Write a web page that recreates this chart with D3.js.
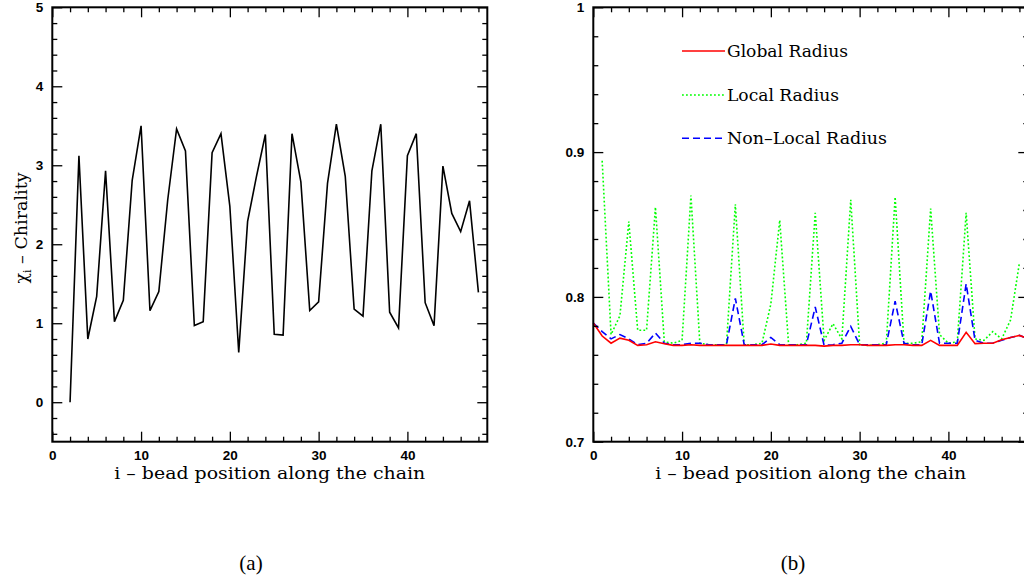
<!DOCTYPE html>
<html><head><meta charset="utf-8">
<script src="https://cdn.jsdelivr.net/npm/d3@7"></script>
<style>body{margin:0;background:#fff}svg{display:block}</style>
</head><body>
<svg id="c" width="1024" height="580"></svg>
<script>
// ---- Panel (a): chirality per bead ----
const beadsA = d3.range(2, 49);
const chirality = [0.00, 3.12, 0.80, 1.34, 2.93, 1.02, 1.29, 2.81, 3.50, 1.16,
  1.40, 2.56, 3.46, 3.18, 0.97, 1.02, 3.16, 3.40, 2.48, 0.63,
  2.29, 2.86, 3.39, 0.86, 0.85, 3.40, 2.79, 1.16, 1.27, 2.77,
  3.52, 2.86, 1.18, 1.09, 2.93, 3.52, 1.14, 0.94, 3.12, 3.40,
  1.26, 0.97, 2.99, 2.39, 2.16, 2.55, 1.39];
const ticksA_x = [0, 10, 20, 30, 40];
const ticksA_y = [0, 1, 2, 3, 4, 5];

// ---- Panel (b): radii per bead ----
const beadsB = d3.range(0, 50);
const globalRadius = [0.782, 0.773, 0.768, 0.7715, 0.770, 0.7665, 0.767, 0.769, 0.7677, 0.7665,
  0.7665, 0.767, 0.7665, 0.7665, 0.7665, 0.7665, 0.7665, 0.7665, 0.7665, 0.7665,
  0.7675, 0.7665, 0.7665, 0.7665, 0.7665, 0.7665, 0.766, 0.7665, 0.7665, 0.767,
  0.767, 0.7665, 0.7665, 0.7665, 0.767, 0.767, 0.7665, 0.7665, 0.770, 0.7665,
  0.7665, 0.7665, 0.7755, 0.7677, 0.768, 0.768, 0.7704, 0.772, 0.7734, 0.771];
const nonLocalRadius = [0.782, 0.776, 0.771, 0.774, 0.771, 0.767, 0.768, 0.775, 0.768, 0.767,
  0.767, 0.768, 0.768, 0.767, 0.767, 0.767, 0.799, 0.767, 0.767, 0.767,
  0.772, 0.767, 0.767, 0.767, 0.767, 0.793, 0.7665, 0.767, 0.768, 0.7796,
  0.767, 0.767, 0.767, 0.767, 0.797, 0.768, 0.767, 0.767, 0.804, 0.768,
  0.768, 0.768, 0.809, 0.770, 0.768, 0.768, 0.770, 0.772, 0.7734, 0.771];
const beadsLocal = d3.range(1, 49);
const localRadius = [0.894, 0.774, 0.787, 0.852, 0.777, 0.777, 0.862, 0.769, 0.768,
  0.770, 0.870, 0.768, 0.767, 0.767, 0.767, 0.864, 0.767, 0.767, 0.768,
  0.795, 0.853, 0.767, 0.767, 0.768, 0.858, 0.770, 0.7815, 0.771, 0.867,
  0.767, 0.7665, 0.767, 0.768, 0.869, 0.768, 0.768, 0.769, 0.861, 0.774,
  0.768, 0.769, 0.858, 0.771, 0.770, 0.776, 0.771, 0.784, 0.8235];
const ticksB_x = [0, 10, 20, 30, 40];
const ticksB_y = [0.7, 0.8, 0.9, 1];
const ticksB_yLabels = ["0.7", "0.8", "0.9", "1"];

const seriesNames = ["Global Radius", "Local Radius", "Non\u2013Local Radius"];

const svg = d3.select("#c");
const tickFont = "'Liberation Sans', Arial, sans-serif";
const serif = "'DejaVu Serif', serif";

function panel(g, x, y, xMaj, xMin, yMaj, yMin, yFmt) {
  const [x0, x1] = x.range();
  const [y0, y1] = y.range(); // y0 bottom, y1 top
  const style = a => {
    a.select(".domain").remove();
    a.selectAll("line").attr("stroke", "#000").attr("stroke-width", 1.3);
    a.selectAll("text").attr("font-family", tickFont).attr("font-weight", "bold")
      .attr("font-size", 13.5).attr("fill", "#000");
  };
  // minor
  g.append("g").attr("transform", `translate(0,${y0})`)
    .call(d3.axisBottom(x).tickValues(xMin).tickSizeInner(-5).tickSizeOuter(0).tickFormat(""))
    .call(style);
  g.append("g").attr("transform", `translate(0,${y1})`)
    .call(d3.axisTop(x).tickValues(xMin).tickSizeInner(-5).tickSizeOuter(0).tickFormat(""))
    .call(style);
  g.append("g").attr("transform", `translate(${x0},0)`)
    .call(d3.axisLeft(y).tickValues(yMin).tickSizeInner(-5).tickSizeOuter(0).tickFormat(""))
    .call(style);
  g.append("g").attr("transform", `translate(${x1},0)`)
    .call(d3.axisRight(y).tickValues(yMin).tickSizeInner(-5).tickSizeOuter(0).tickFormat(""))
    .call(style);
  // major
  g.append("g").attr("transform", `translate(0,${y0})`)
    .call(d3.axisBottom(x).tickValues(xMaj).tickSizeInner(-10).tickSizeOuter(0).tickPadding(9).tickFormat(d3.format("d")))
    .call(style);
  g.append("g").attr("transform", `translate(0,${y1})`)
    .call(d3.axisTop(x).tickValues(xMaj).tickSizeInner(-10).tickSizeOuter(0).tickFormat(""))
    .call(style);
  g.append("g").attr("transform", `translate(${x0},0)`)
    .call(d3.axisLeft(y).tickValues(yMaj).tickSizeInner(-10).tickSizeOuter(0).tickPadding(9).tickFormat(yFmt))
    .call(style);
  g.append("g").attr("transform", `translate(${x1},0)`)
    .call(d3.axisRight(y).tickValues(yMaj).tickSizeInner(-10).tickSizeOuter(0).tickFormat(""))
    .call(style);
  // frame
  g.append("rect").attr("x", x0).attr("y", y1).attr("width", x1 - x0).attr("height", y0 - y1)
    .attr("fill", "none").attr("stroke", "#000").attr("stroke-width", 2);
}

// ---------- Panel (a) ----------
const xA = d3.scaleLinear().domain([0, 49]).range([52.3, 487.3]);
const yA = d3.scaleLinear().domain([-0.5, 5]).range([441.7, 7.3]);
const gA = svg.append("g");
const lineA = d3.line().x(d => xA(d[0])).y(d => yA(d[1]));
gA.append("path").datum(d3.zip(beadsA, chirality)).attr("d", lineA)
  .attr("fill", "none").attr("stroke", "#000").attr("stroke-width", 1.6).attr("stroke-linejoin", "miter");
panel(gA, xA, yA, ticksA_x, d3.range(0, 49, 2).filter(v => v % 10), ticksA_y,
  d3.range(-0.4, 5, 0.2).map(v => +v.toFixed(1)).filter(v => Math.abs(v - Math.round(v)) > 1e-6), d3.format("d"));

gA.append("text").attr("x", 269.8).attr("y", 479).attr("text-anchor", "middle")
  .attr("font-family", serif).attr("font-size", 17).attr("textLength", 311).attr("lengthAdjust", "spacingAndGlyphs")
  .text("i \u2013 bead position along the chain");
const yt = gA.append("text").attr("transform", "translate(27,228) rotate(-90)").attr("text-anchor", "middle")
  .attr("font-family", serif).attr("font-size", 17.5);
yt.append("tspan").text("\u03c7");
yt.append("tspan").attr("font-size", 11).attr("dy", 4).text("i");
yt.append("tspan").attr("dy", -4).text(" \u2013 Chirality");

svg.append("text").attr("x", 251).attr("y", 570).attr("text-anchor", "middle")
  .attr("font-family", "'Liberation Serif', 'Times New Roman', serif").attr("font-size", 21).text("(a)");

// ---------- Panel (b) ----------
const xB = d3.scaleLinear().domain([0, 49]).range([593.3, 1028.3]);
const yB = d3.scaleLinear().domain([0.7, 1]).range([441.7, 7.3]);
const gB = svg.append("g");
const lineB = d3.line().x(d => xB(d[0])).y(d => yB(d[1]));
const colors = ["#ff0000", "#00ff00", "#0000ff"];
const dashes = [null, "1.8,2.2", "7,4"];
gB.append("path").datum(d3.zip(beadsLocal, localRadius)).attr("d", lineB)
  .attr("fill", "none").attr("stroke", colors[1]).attr("stroke-width", 1.6).attr("stroke-dasharray", dashes[1]);
gB.append("path").datum(d3.zip(beadsB, nonLocalRadius)).attr("d", lineB)
  .attr("fill", "none").attr("stroke", colors[2]).attr("stroke-width", 1.6).attr("stroke-dasharray", dashes[2]);
gB.append("path").datum(d3.zip(beadsB, globalRadius)).attr("d", lineB)
  .attr("fill", "none").attr("stroke", colors[0]).attr("stroke-width", 1.6);
panel(gB, xB, yB, ticksB_x, d3.range(0, 49, 2).filter(v => v % 10), ticksB_y,
  d3.range(0.72, 1, 0.02).map(v => +v.toFixed(2)).filter(v => Math.abs(v * 10 - Math.round(v * 10)) > 1e-6),
  (d, i) => ticksB_yLabels[i]);

gB.append("text").attr("x", 810.8).attr("y", 479).attr("text-anchor", "middle")
  .attr("font-family", serif).attr("font-size", 17).attr("textLength", 311).attr("lengthAdjust", "spacingAndGlyphs")
  .text("i \u2013 bead position along the chain");

// legend
const legY = [51, 95, 138.3];
const legW = [121, 112, 160];
seriesNames.forEach((name, i) => {
  gB.append("line").attr("x1", 682).attr("x2", 725).attr("y1", legY[i]).attr("y2", legY[i])
    .attr("stroke", colors[i]).attr("stroke-width", 1.6).attr("stroke-dasharray", dashes[i]);
  gB.append("text").attr("x", 727).attr("y", legY[i] + 6)
    .attr("font-family", serif).attr("font-size", 17).attr("textLength", legW[i]).attr("lengthAdjust", "spacingAndGlyphs")
    .text(name);
});

svg.append("text").attr("x", 793).attr("y", 570).attr("text-anchor", "middle")
  .attr("font-family", "'Liberation Serif', 'Times New Roman', serif").attr("font-size", 21).text("(b)");
</script>
</body></html>
